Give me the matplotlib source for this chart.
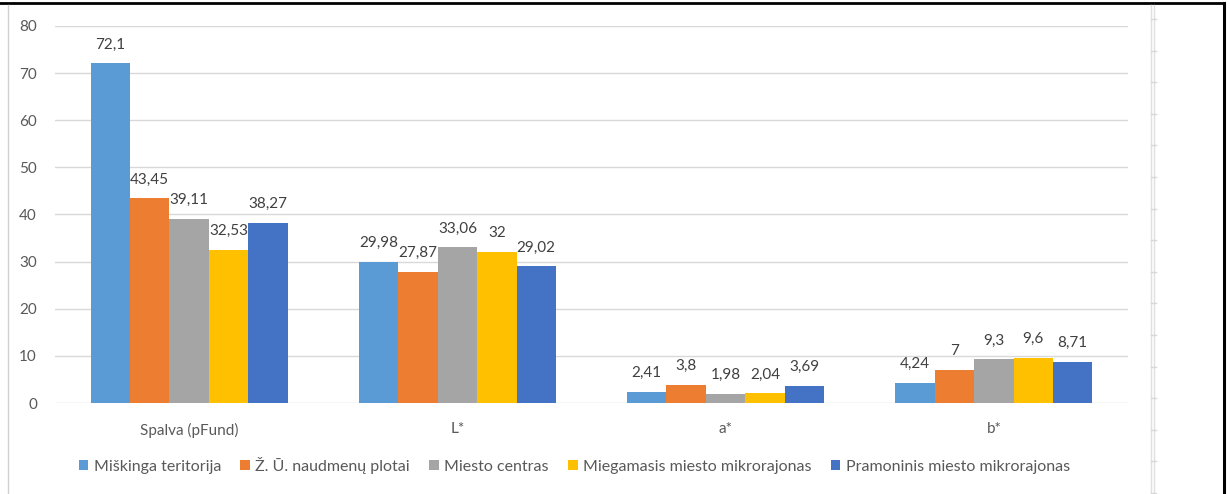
import numpy as np
import matplotlib.pyplot as plt
from matplotlib.lines import Line2D

categories = ['Spalva (pFund)', 'L*', 'a*', 'b*']
series_names = ['Miškinga teritorija', 'Ž. Ū. naudmenų plotai', 'Miesto centras',
                'Miegamasis miesto mikrorajonas', 'Pramoninis miesto mikrorajonas']
miskinga = [72.1, 29.98, 2.41, 4.24]
zu_plotai = [43.45, 27.87, 3.8, 7]
centras = [39.11, 33.06, 1.98, 9.3]
miegamasis = [32.53, 32, 2.04, 9.6]
pramoninis = [38.27, 29.02, 3.69, 8.71]
label_text = [
    ['72,1', '29,98', '2,41', '4,24'],
    ['43,45', '27,87', '3,8', '7'],
    ['39,11', '33,06', '1,98', '9,3'],
    ['32,53', '32', '2,04', '9,6'],
    ['38,27', '29,02', '3,69', '8,71'],
]
colors = ['#5b9bd5', '#ed7d31', '#a5a5a5', '#ffc000', '#4472c4']

plt.rcParams['font.family'] = ['Lato', 'DejaVu Sans']

fig = plt.figure(figsize=(12.3, 4.94), dpi=100)
ax = fig.add_axes([55 / 1230, 1 - 403 / 494, 1073 / 1230, 377 / 494])

x = np.arange(len(categories))
w = 0.147
all_series = [miskinga, zu_plotai, centras, miegamasis, pramoninis]
for i, vals in enumerate(all_series):
    pos = x + (i - 2) * w
    ax.bar(pos, vals, w, color=colors[i], label=series_names[i], zorder=3)
    for px, v, t in zip(pos, vals, label_text[i]):
        ax.text(px, v + 2.5, t, ha='center', va='bottom', fontsize=11, color='#404040')

ax.set_xlim(-0.5, 3.5)
ax.set_ylim(0, 80)
ax.set_yticks(range(0, 81, 10))
ax.set_xticks(x)
ax.set_xticklabels(categories)
ax.tick_params(axis='both', length=0, labelsize=11, labelcolor='#595959')
ax.tick_params(axis='x', pad=14)
ax.tick_params(axis='y', pad=13)
ax.grid(axis='y', color='#d9d9d9', linewidth=1, zorder=0)
for s in ax.spines.values():
    s.set_visible(False)

ax.legend(loc='center', bbox_to_anchor=(0.484, -0.165), ncol=5, frameon=False,
          fontsize=11.5, handlelength=0.6, handleheight=0.6, handletextpad=0.35,
          columnspacing=1.2, labelcolor='#595959')

# page borders around the chart
fig.add_artist(Line2D([0, 1224 / 1230], [1 - 3.5 / 494] * 2, color='black', lw=2))
fig.add_artist(Line2D([1224 / 1230] * 2, [0, 1 - 3.5 / 494], color='black', lw=2.2))
fig.add_artist(Line2D([7.5 / 1230] * 2, [0, 1 - 5 / 494], color='#d0d0d0', lw=1))
fig.add_artist(Line2D([1151 / 1230] * 2, [0, 1 - 5 / 494], color='#e0e0e0', lw=1))
fig.add_artist(Line2D([1153.5 / 1230] * 2, [0, 1 - 5 / 494], color='#e0e0e0', lw=1))
for ty in np.arange(19, 494, 31.6):
    fig.add_artist(Line2D([1151 / 1230, 1156 / 1230], [1 - ty / 494] * 2,
                          color='#d8d8d8', lw=1))

fig.savefig('out.png', dpi=100)
